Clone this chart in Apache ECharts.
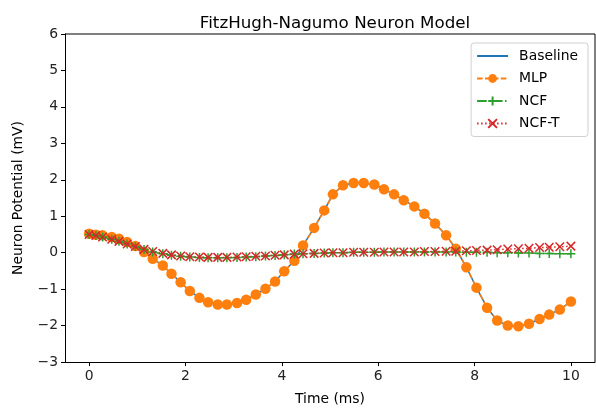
<!DOCTYPE html>
<html>
<head>
<meta charset="utf-8">
<script src="https://cdn.jsdelivr.net/npm/echarts@6/dist/echarts.min.js"></script>
<style>
html,body{margin:0;padding:0;background:#fff;}
#chart{width:596px;height:412px;}
</style>
</head>
<body>
<div id="chart"></div>
<script>
const title = 'FitzHugh-Nagumo Neuron Model';
const xLabel = 'Time (ms)';
const yLabel = 'Neuron Potential (mV)';
const xTicks = [0, 2, 4, 6, 8, 10];

const time = [0, 0.14, 0.28, 0.47, 0.62, 0.79, 0.96, 1.14, 1.32, 1.53, 1.71, 1.90, 2.09, 2.29, 2.47, 2.67, 2.86, 3.07, 3.26, 3.46, 3.66, 3.86, 4.05, 4.26, 4.44, 4.67, 4.88, 5.06, 5.27, 5.49, 5.70, 5.92, 6.12, 6.33, 6.53, 6.75, 6.96, 7.18, 7.41, 7.61, 7.83, 8.04, 8.26, 8.47, 8.69, 8.91, 9.13, 9.35, 9.55, 9.77, 10.0];

const baseline = [0.52, 0.49, 0.475, 0.43, 0.38, 0.29, 0.18, 0.02, -0.17, -0.35, -0.58, -0.81, -1.05, -1.24, -1.36, -1.42, -1.42, -1.38, -1.29, -1.15, -0.99, -0.79, -0.51, -0.22, 0.20, 0.68, 1.16, 1.60, 1.85, 1.91, 1.91, 1.87, 1.74, 1.60, 1.44, 1.27, 1.07, 0.80, 0.48, 0.11, -0.40, -0.96, -1.51, -1.86, -2.00, -2.02, -1.95, -1.82, -1.70, -1.56, -1.34];

const mlp = [0.52, 0.49, 0.475, 0.43, 0.38, 0.29, 0.18, 0.02, -0.17, -0.35, -0.58, -0.81, -1.05, -1.24, -1.36, -1.42, -1.42, -1.38, -1.29, -1.15, -0.99, -0.79, -0.51, -0.22, 0.20, 0.68, 1.16, 1.60, 1.85, 1.91, 1.91, 1.87, 1.74, 1.60, 1.44, 1.27, 1.07, 0.80, 0.48, 0.11, -0.40, -0.96, -1.51, -1.86, -2.00, -2.02, -1.95, -1.82, -1.70, -1.56, -1.34];

const ncf = [0.50, 0.47, 0.43, 0.37, 0.31, 0.24, 0.17, 0.09, 0.02, -0.03, -0.07, -0.10, -0.12, -0.13, -0.14, -0.14, -0.14, -0.13, -0.12, -0.11, -0.09, -0.08, -0.06, -0.04, -0.03, -0.02, -0.01, 0.00, 0.00, 0.01, 0.01, 0.01, 0.02, 0.02, 0.02, 0.02, 0.02, 0.02, 0.02, 0.02, 0.01, 0.01, 0.01, 0.00, 0.00, -0.01, -0.01, -0.02, -0.02, -0.03, -0.03];

const ncfT = [0.50, 0.47, 0.43, 0.37, 0.31, 0.24, 0.17, 0.09, 0.03, -0.02, -0.06, -0.09, -0.11, -0.12, -0.13, -0.13, -0.13, -0.12, -0.11, -0.10, -0.09, -0.07, -0.06, -0.04, -0.03, -0.02, -0.01, 0.00, 0.00, 0.01, 0.01, 0.01, 0.02, 0.02, 0.02, 0.02, 0.03, 0.03, 0.04, 0.04, 0.05, 0.06, 0.07, 0.08, 0.10, 0.11, 0.12, 0.14, 0.15, 0.16, 0.18];

const pairs = (ys) => time.map((t, i) => [t, ys[i]]);

const FONT = 'DejaVu Sans';
const chart = echarts.init(document.getElementById('chart'), null, {renderer: 'canvas'});

const plusPath = 'path://M0,5L10,5M5,0L5,10';
const crossPath = 'path://M0,0L10,10M10,0L0,10';

chart.setOption({
  animation: false,
  backgroundColor: '#fff',
  textStyle: {fontFamily: FONT},
  title: {
    text: title,
    left: 330, top: 10, textAlign: 'center',
    textStyle: {fontFamily: FONT, fontSize: 16.7, fontWeight: 'normal', color: '#000'}
  },
  grid: {left: 65, right: 1, top: 34, bottom: 50, containLabel: false},
  legend: {
    orient: 'vertical',
    right: 8, top: 43,
    itemWidth: 31, itemHeight: 11,
    itemGap: 8.5,
    padding: [6, 10, 6, 5],
    borderColor: '#d0d0d0', borderWidth: 1, borderRadius: 3,
    backgroundColor: 'rgba(255,255,255,0.8)',
    textStyle: {fontFamily: FONT, fontSize: 13.9, color: '#000', padding: [0, 0, 0, 6]},
    data: [
      {name: 'Baseline', itemStyle: {color: 'rgba(0,0,0,0)', borderWidth: 0, opacity: 0}},
      'MLP', 'NCF', 'NCF-T'
    ]
  },
  xAxis: {
    type: 'value', min: -0.5, max: 10.5,
    name: xLabel, nameLocation: 'middle', nameGap: 30,
    nameTextStyle: {fontFamily: FONT, fontSize: 13.9, color: '#000'},
    axisLine: {onZero: false, lineStyle: {color: '#000', width: 1}},
    axisTick: {show: true, length: 4, lineStyle: {color: '#000'}, customValues: xTicks},
    axisLabel: {fontFamily: FONT, fontSize: 13.9, color: '#222', margin: 7, customValues: xTicks},
    splitLine: {show: false}
  },
  yAxis: {
    type: 'value', min: -3, max: 6, interval: 1,
    name: yLabel, nameLocation: 'middle', nameGap: 40, nameRotate: 90,
    nameTextStyle: {fontFamily: FONT, fontSize: 13.9, color: '#000'},
    axisLine: {show: true, onZero: false, lineStyle: {color: '#000', width: 1}},
    axisTick: {show: true, length: 4, lineStyle: {color: '#000'}},
    axisLabel: {fontFamily: FONT, fontSize: 13.9, color: '#222', margin: 7,
      formatter: v => (v < 0 ? '\u2212' + Math.abs(v) : '' + v)},
    splitLine: {show: false}
  },
  series: [
    {
      name: 'Baseline', type: 'line', data: pairs(baseline),
      symbol: 'none',
      lineStyle: {color: '#1f77b4', width: 1.5},
      itemStyle: {color: '#1f77b4'}, z: 2
    },
    {
      name: 'MLP', type: 'line', data: pairs(mlp),
      symbol: 'circle', symbolSize: 10.5,
      lineStyle: {color: '#ff7f0e', width: 1.5, type: [5.5, 2.4]},
      itemStyle: {color: '#ff7f0e', borderWidth: 0}, z: 3
    },
    {
      name: 'NCF', type: 'line', data: pairs(ncf),
      symbol: plusPath, symbolSize: 9,
      lineStyle: {color: '#2ca02c', width: 1.5, type: [9.6, 2.4, 1.5, 2.4]},
      itemStyle: {color: 'rgba(0,0,0,0)', borderColor: '#2ca02c', borderWidth: 1.5}, z: 4
    },
    {
      name: 'NCF-T', type: 'line', data: pairs(ncfT),
      symbol: crossPath, symbolSize: 8.5,
      lineStyle: {color: '#d62728', width: 1.5, type: [1.5, 2.5]},
      itemStyle: {color: 'rgba(0,0,0,0)', borderColor: '#d62728', borderWidth: 1.5}, z: 5
    }
  ],
  graphic: [
    {type: 'line', shape: {x1: 65, y1: 34, x2: 595, y2: 34}, style: {stroke: '#000', lineWidth: 1}, silent: true},
    {type: 'line', shape: {x1: 595, y1: 34, x2: 595, y2: 362}, style: {stroke: '#000', lineWidth: 1}, silent: true}
  ]
});
</script>
</body>
</html>
